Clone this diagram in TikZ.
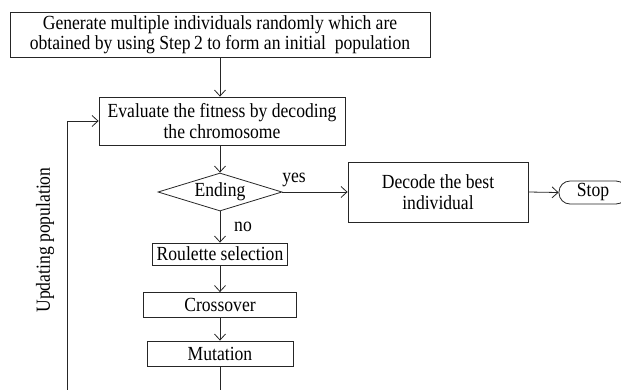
\documentclass[tikz,border=0pt]{standalone}
\usepackage{fontspec}
\setmainfont{Liberation Serif}[FakeStretch=0.88]
\usetikzlibrary{shapes.geometric,arrows.meta}
\begin{document}
\begin{tikzpicture}[x=1pt,y=-1pt,
  every node/.style={font=\fontsize{20}{20.5}\selectfont, inner sep=0pt},
  procbox/.style={draw=black!85, line width=0.8pt, rectangle, align=center},
  conn/.style={draw=black!85, line width=0.8pt, -{Straight Barb[length=6pt,width=11pt]}},
  plain/.style={draw=black!85, line width=0.8pt}]
\useasboundingbox (0,0) rectangle (621,389);
\node[procbox, minimum width=420pt, minimum height=45pt] (init) at (220,34.5)
  {Generate multiple individuals randomly which are\\obtained by using Step\,2 to form an initial\ \ population};
\node[procbox, minimum width=246pt, minimum height=48pt] (eval) at (222,121)
  {Evaluate the fitness by decoding\\the chromosome};
\node[draw=black!85, line width=0.8pt, diamond, aspect=3.26, minimum width=124pt, minimum height=38pt] (end) at (220,192) {Ending};
\node[procbox, minimum width=180pt, minimum height=60pt] (dec) at (438,192)
  {Decode the best\\individual};
\node[draw=black!85, line width=0.8pt, rounded corners=11pt, minimum width=68pt, minimum height=23pt] (stop) at (593,192.5) {Stop};
\node[procbox, minimum width=135pt, minimum height=22pt] (rou) at (220,254) {Roulette selection};
\node[procbox, minimum width=153pt, minimum height=25pt] (cro) at (220,305) {Crossover};
\node[procbox, minimum width=146pt, minimum height=25pt] (mut) at (220,353.5) {Mutation};
\node (yes) at (294,180) {yes};
\node (no) at (243,227) {no};
\node[rotate=90] (upd) at (45,240) {Updating population};
\coordinate (mb) at (220,392);
\coordinate (lb) at (67,392);
\coordinate (lt) at (67,121);
\draw[conn] (init.south -| end.north) -- (eval.north -| end.north);
\draw[conn] (eval.south -| end.north) -- (end.north);
\draw[conn] (end.east) -- (dec.west);
\draw[conn] (dec.east) -- (stop.west);
\draw[conn] (end.south) -- (rou.north);
\draw[conn] (rou.south) -- (cro.north);
\draw[conn] (cro.south) -- (mut.north);
\draw[plain] (mut.south) -- (mb);
\draw[conn] (lb) -- (lt) -- (eval.west |- lt);
\end{tikzpicture}
\end{document}
